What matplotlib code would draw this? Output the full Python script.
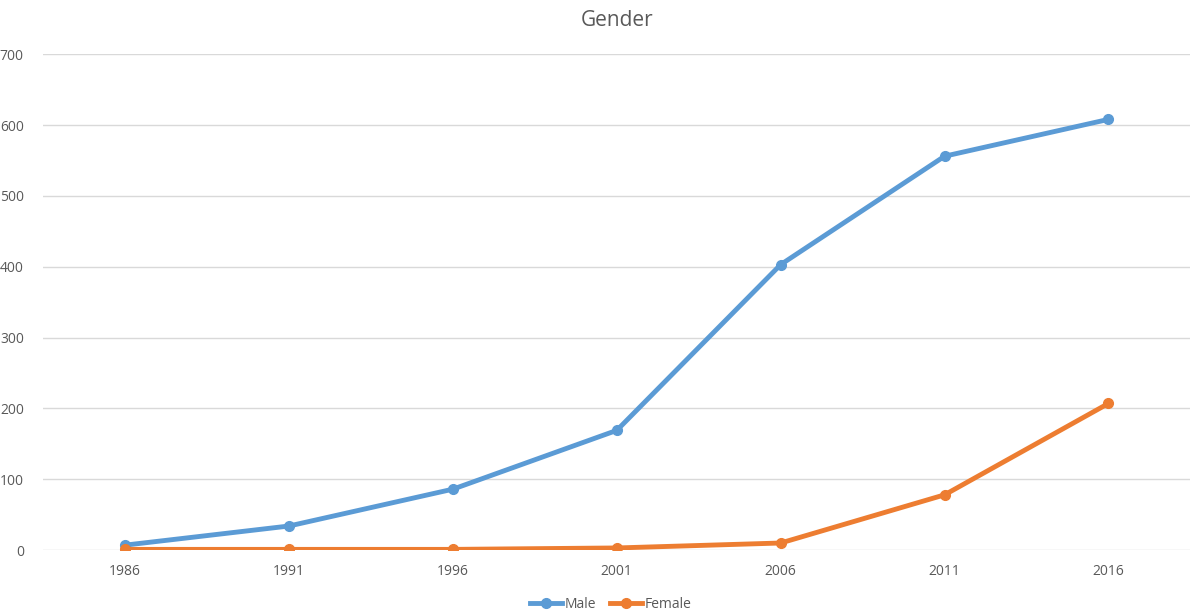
import matplotlib
matplotlib.use("Agg")
import matplotlib.pyplot as plt

years = ["1986", "1991", "1996", "2001", "2006", "2011", "2016"]
male = [7, 34, 86, 169, 403, 556, 608]
female = [1, 1, 1, 3, 10, 78, 207]

plt.rcParams['font.family'] = ['Open Sans', 'DejaVu Sans']

fig = plt.figure(figsize=(12, 6.16), dpi=100)
ax = fig.add_axes([0.036, 0.107, 0.956, 0.805])

x = list(range(len(years)))
ax.plot(x, male, color="#5b9bd5", lw=3.5, marker="o", ms=7, label="Male", zorder=3)
ax.plot(x, female, color="#ed7d31", lw=3.5, marker="o", ms=7, label="Female", zorder=3)

ax.set_xlim(-0.5, len(years) - 0.5)
ax.set_ylim(0, 700)
ax.set_yticks(range(0, 701, 100))
ax.set_xticks(x)
ax.set_xticklabels(years)
ax.tick_params(length=0, labelsize=10, colors="#595959")
ax.tick_params(axis="x", pad=10)
ax.tick_params(axis="y", pad=14)
ax.grid(axis="y", color="#d9d9d9", lw=1)
ax.set_axisbelow(True)
for s in ax.spines.values():
    s.set_visible(False)

ax.set_title("Gender", fontsize=15, color="#595959", pad=20)

ax.legend(loc="upper center", bbox_to_anchor=(0.495, -0.07), ncol=2, frameon=False,
          fontsize=10, labelcolor="#595959", handlelength=2.3, handletextpad=0.2,
          columnspacing=1.0)

fig.savefig("out.png", dpi=100)
